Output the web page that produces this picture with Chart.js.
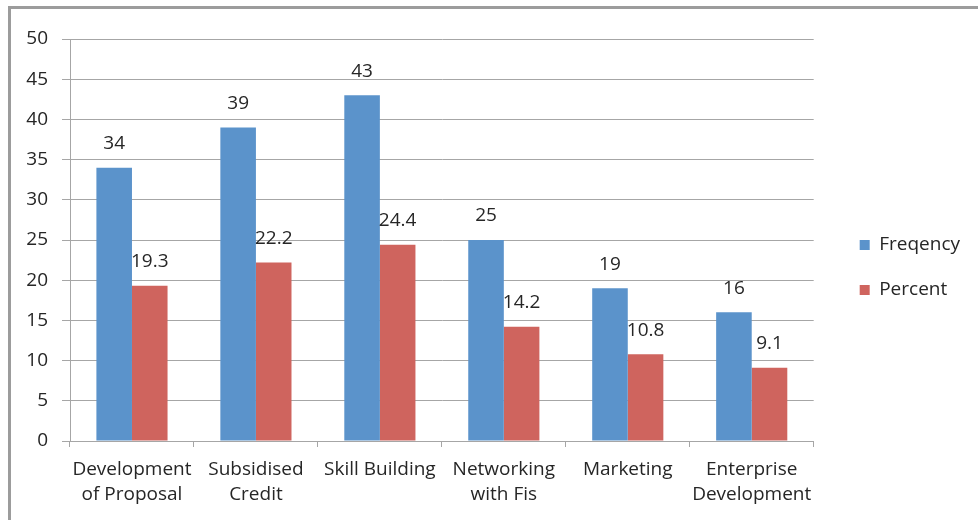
<!DOCTYPE html>
<html>
<head>
<meta charset="utf-8">
<script src="https://cdn.jsdelivr.net/npm/chart.js@4/dist/chart.umd.min.js"></script>
<style>
  html, body { margin: 0; padding: 0; background: #ffffff; }
  #frame {
    position: absolute; left: 8px; top: 6px; width: 980px; height: 520px;
    border-top: 3px solid #9c9c9c; border-left: 3px solid #9c9c9c;
    box-sizing: border-box;
  }
  #wrap { position: absolute; left: 0; top: 0; width: 978px; height: 520px; }
</style>
</head>
<body>
<div id="frame"></div>
<div id="wrap"><canvas id="chart" width="978" height="520"></canvas></div>
<script>
// Support activities: counts and share of respondents
const categories = [
  ['Development', 'of Proposal'],
  ['Subsidised', 'Credit'],
  'Skill Building',
  ['Networking', 'with Fis'],
  'Marketing',
  ['Enterprise', 'Development']
];
const frequency = [34, 39, 43, 25, 19, 16];
const percent = [19.3, 22.2, 24.4, 14.2, 10.8, 9.1];
const seriesNames = ['Freqency', 'Percent'];
const yMin = 0, yMax = 50, yStep = 5;

const FONT = '"Open Sans", "Noto Sans", sans-serif';
const FONT_SIZE = 19;
const TEXT = '#262626';
const GRID = '#a6a6a6';

// Writes each bar's value above it
const valueLabels = {
  id: 'valueLabels',
  afterDatasetsDraw(chart) {
    const ctx = chart.ctx;
    ctx.save();
    ctx.font = FONT_SIZE + 'px ' + FONT;
    ctx.fillStyle = TEXT;
    ctx.textAlign = 'center';
    ctx.textBaseline = 'middle';
    chart.data.datasets.forEach((ds, i) => {
      chart.getDatasetMeta(i).data.forEach((bar, j) => {
        ctx.fillText(String(ds.data[j]), bar.x, bar.y - 24);
      });
    });
    ctx.restore();
  }
};

// Invisible axis used only to reserve blank space
const spacer = (position, size) => ({
  type: 'linear',
  axis: position === 'top' ? 'x' : 'y',
  position, display: true,
  grid: { display: false }, border: { display: false },
  ticks: { display: false },
  afterFit(s) { if (position === 'top') s.height = size; else s.width = size; }
});

new Chart(document.getElementById('chart'), {
  type: 'bar',
  data: {
    labels: categories,
    datasets: [
      { label: seriesNames[0], data: frequency, backgroundColor: '#5b93cb', xAxisID: 'x', yAxisID: 'y' },
      { label: seriesNames[1], data: percent, backgroundColor: '#cf645e', xAxisID: 'x', yAxisID: 'y' }
    ]
  },
  options: {
    responsive: false,
    animation: false,
    layout: { padding: { top: 15, right: 8, bottom: 0, left: 0 } },
    categoryPercentage: 0.574,
    barPercentage: 1.0,
    plugins: {
      legend: {
        position: 'right',
        labels: {
          boxWidth: 10, boxHeight: 10, padding: 26,
          color: TEXT, font: { family: FONT, size: FONT_SIZE }
        }
      },
      tooltip: { enabled: false }
    },
    scales: {
      x: {
        grid: { drawOnChartArea: false, drawTicks: true, tickLength: 6, color: GRID, offset: true },
        border: { color: GRID },
        ticks: { color: TEXT, font: { family: FONT, size: FONT_SIZE, lineHeight: 1.32 }, padding: 10, maxRotation: 0, autoSkip: false },
        afterFit(s) { s.height = 79; }
      },
      y: {
        min: yMin, max: yMax,
        grid: { color: GRID, tickLength: 8 },
        border: { color: GRID },
        ticks: { stepSize: yStep, color: TEXT, font: { family: FONT, size: FONT_SIZE }, padding: 14 },
        afterFit(s) { s.width = 70; }
      },
      gapTop: spacer('top', 24),
      gapRight: spacer('right', 20)
    }
  },
  plugins: [valueLabels]
});
</script>
</body>
</html>
